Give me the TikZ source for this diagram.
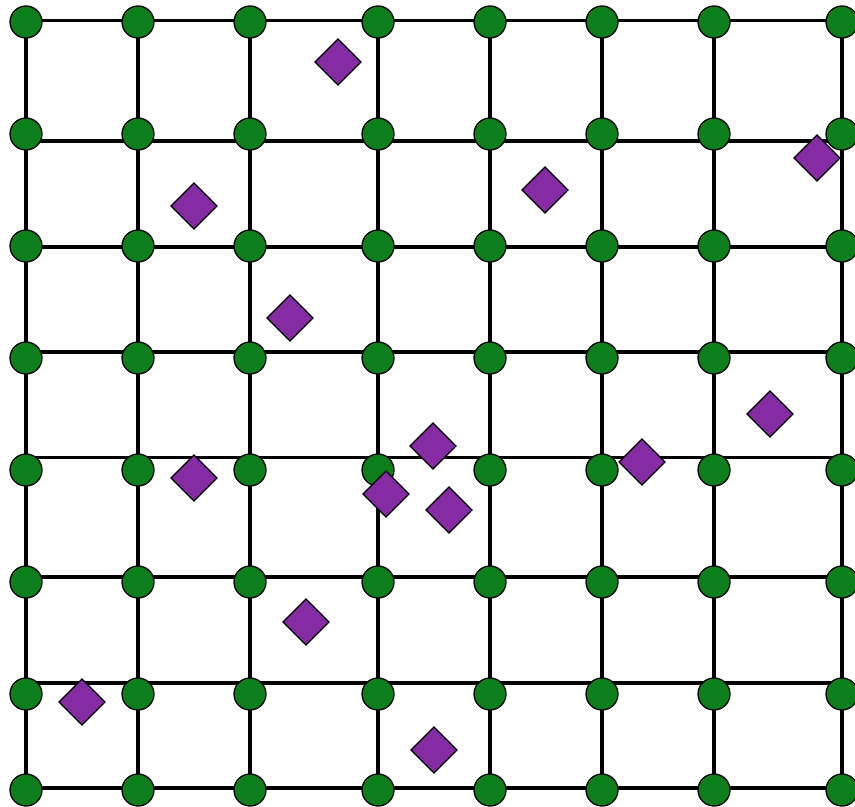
\documentclass[tikz,border=0pt]{standalone}
\usetikzlibrary{shapes.geometric}
\definecolor{sitegreen}{HTML}{0C7F1C}
\definecolor{walkerpurple}{HTML}{852CA5}
\tikzset{
    lattice line/.style={line width=2.7pt, black},
    site/.style={circle, draw, fill=sitegreen, line width=1.1pt,
                 minimum size=0.96cm, inner sep=0pt},
    walker/.style={diamond, draw, fill=walkerpurple, line width=1.1pt,
                   minimum size=1.4cm, inner sep=0pt},
}
\newcommand{\latticecanvas}{
    \path[use as bounding box] (0,0) rectangle (855,807);
}

\begin{document}
\begin{tikzpicture}[x=0.03cm, y=-0.03cm]
    \latticecanvas

    % line ends
    \foreach \cx [count=\i] in {26,138,250,378,490,602,714,842} {
        \coordinate (vt-\i) at (\cx,20.7);
        \coordinate (vb-\i) at (\cx,788);
    }
    \foreach \hy [count=\j] in {20.7,141,247,352,457.5,577,683,788} {
        \coordinate (hl-\j) at (26,\hy);
        \coordinate (hr-\j) at (842,\hy);
    }
    \foreach \k in {1,...,8} {
        \draw[lattice line] (vt-\k) -- (vb-\k);
        \draw[lattice line] (hl-\k) -- (hr-\k);
    }

    % sites
    \foreach \cy [count=\j] in {22,134,246,358,470,582,694,790} {
        \foreach \cx [count=\i] in {26,138,250,378,490,602,714,842} {
            \node[site] (s-\i-\j) at (\cx,\cy) {};
        }
    }

    % walkers
    \node[walker] (w1) at (338,62) {};
    \node[walker] (w2) at (545,190) {};
    \node[walker] (w3) at (817,158) {};
    \node[walker] (w4) at (194,206) {};
    \node[walker] (w5) at (290,318) {};
    \node[walker] (w6) at (194,478) {};
    \node[walker] (w7) at (433,446) {};
    \node[walker] (w8) at (386,494) {};
    \node[walker] (w9) at (449,510) {};
    \node[walker] (w10) at (642,462) {};
    \node[walker] (w11) at (770,414) {};
    \node[walker] (w12) at (306,622) {};
    \node[walker] (w13) at (82,702) {};
    \node[walker] (w14) at (434,750) {};

\end{tikzpicture}
\end{document}
